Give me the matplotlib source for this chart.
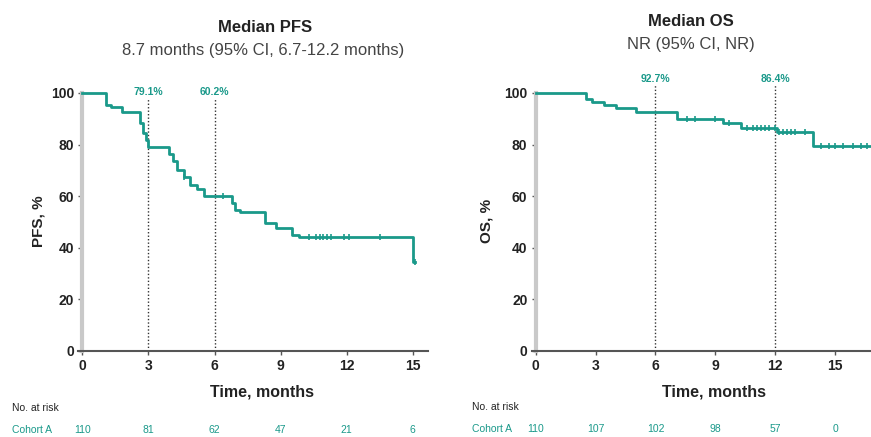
import numpy as np
import matplotlib
matplotlib.use("Agg")
import matplotlib.pyplot as plt

plt.rcParams['font.family'] = ['Liberation Sans', 'DejaVu Sans']

TEAL = "#1a998a"

# PFS curve (months, % event-free after each step)
pfs_t = [0, 1.05, 1.3, 1.8, 2.6, 2.75, 2.9, 3.0, 3.95, 4.1, 4.3, 4.6, 4.9, 5.2, 5.5,
         6.8, 6.95, 7.15, 8.3, 8.8, 9.5, 9.85, 15.0]
pfs_v = [100, 95.5, 94.5, 92.7, 88.2, 84.5, 81.8, 79.1, 76.4, 73.6, 70.0, 67.3, 64.5,
         62.7, 60.2, 57.3, 54.5, 54.0, 49.5, 47.6, 44.8, 44.1, 34.5]
pfs_end = 15.1
pfs_cens_t = [4.6, 6.4, 10.3, 10.6, 10.8, 10.95, 11.1, 11.3, 11.9, 12.1, 13.5, 15.1]

# OS curve
os_t = [0, 2.5, 2.8, 3.4, 4.0, 5.0, 7.1, 9.4, 10.3, 12.1, 13.9]
os_v = [100, 97.6, 96.4, 95.3, 94.1, 92.7, 90.0, 88.5, 86.4, 85.0, 79.5]
os_end = 17.0
os_cens_t = [7.6, 8.0, 9.0, 9.7, 10.6, 10.9, 11.1, 11.3, 11.5, 11.7, 12.0, 12.2, 12.4,
             12.6, 12.8, 13.0, 13.5, 14.3, 14.7, 15.0, 15.4, 15.9, 16.3, 16.6]

# landmark rates
pfs_marks = [3, 6]
pfs_mark_lbl = ["79.1%", "60.2%"]
os_marks = [6, 12]
os_mark_lbl = ["92.7%", "86.4%"]

xticks = [0, 3, 6, 9, 12, 15]
pfs_risk = [110, 81, 62, 47, 21, 6]
os_risk = [110, 107, 102, 98, 57, 0]


def step_value(t, v, x):
    i = np.searchsorted(t, x, side="right") - 1
    return v[i]


def km_panel(ax, t, v, t_end, cens, xmax, xlab_x):
    tt = list(t) + [t_end]
    vv = list(v) + [v[-1]]
    ax.step(tt, vv, where="post", color=TEAL, lw=2, clip_on=False, zorder=3)
    cv = [step_value(t, v, c) for c in cens]
    ax.plot(cens, cv, ls="none", marker="|", ms=4, mew=1.2, color=TEAL, zorder=4)
    ax.set_xlim(-0.2, xmax)
    ax.set_ylim(0, 101)
    ax.set_xticks(xticks)
    ax.set_yticks([0, 20, 40, 60, 80, 100])
    for s in ["top", "right"]:
        ax.spines[s].set_visible(False)
    ax.spines["left"].set_color("#c9c9c9")
    ax.spines["left"].set_linewidth(3)
    ax.spines["left"].set_bounds(0, 100)
    ax.spines["left"].set_position(("data", 0))
    ax.spines["bottom"].set_color("#555555")
    ax.spines["bottom"].set_linewidth(1.5)
    ax.tick_params(axis="both", length=3, width=1, color="#555555",
                   labelsize=10, labelcolor="#222222", pad=3)
    for lab in ax.get_xticklabels() + ax.get_yticklabels():
        lab.set_fontweight("bold")
    ax.set_xlabel("Time, months", fontsize=11.5, fontweight="bold", color="#222222")
    ax.xaxis.set_label_coords(xlab_x, -0.128)


fig = plt.figure(figsize=(8.71, 4.37), dpi=100)
ax1 = fig.add_axes([0.0896, 0.1968, 0.4018, 0.5963])
ax2 = fig.add_axes([0.6105, 0.1968, 0.3895, 0.5963])

km_panel(ax1, pfs_t, pfs_v, pfs_end, pfs_cens_t, 15.7, 0.526)
km_panel(ax2, os_t, os_v, os_end, os_cens_t, 16.8, 0.537)

ax1.set_ylabel("PFS, %", fontsize=11, fontweight="bold", color="#222222", labelpad=4)
ax2.set_ylabel("OS, %", fontsize=11, fontweight="bold", color="#222222", labelpad=8)

for m, lbl in zip(pfs_marks, pfs_mark_lbl):
    ax1.plot([m, m], [0, 98], ls=(0, (1, 1.5)), color="#333333", lw=1, zorder=2)
    ax1.text(m, 100.2, lbl, ha="center", va="center", fontsize=7.5,
             fontweight="bold", color=TEAL)
for m, lbl in zip(os_marks, os_mark_lbl):
    ax2.plot([m, m], [0, 103.5], ls=(0, (1, 1.5)), color="#333333", lw=1,
             zorder=2, clip_on=False)
    ax2.text(m, 105.5, lbl, ha="center", va="center", fontsize=7.5,
             fontweight="bold", color=TEAL, clip_on=False)

# titles
fig.text(265 / 871, 1 - 27 / 437, "Median PFS", ha="center", va="center",
         fontsize=12, fontweight="bold", color="#222222")
fig.text(263 / 871, 1 - 50 / 437, "8.7 months (95% CI, 6.7-12.2 months)",
         ha="center", va="center", fontsize=12, color="#444444")
fig.text(691 / 871, 1 - 21 / 437, "Median OS", ha="center", va="center",
         fontsize=12, fontweight="bold", color="#222222")
fig.text(691 / 871, 1 - 44 / 437, "NR (95% CI, NR)", ha="center", va="center",
         fontsize=12, color="#444444")

# numbers at risk
fig.text(12 / 871, 1 - 408 / 437, "No. at risk", ha="left", va="center",
         fontsize=7.5, color="#222222")
fig.text(472 / 871, 1 - 407 / 437, "No. at risk", ha="left", va="center",
         fontsize=7.5, color="#222222")
fig.text(12 / 871, 1 - 430 / 437, "Cohort A", ha="left", va="center",
         fontsize=7.5, color=TEAL)
fig.text(472 / 871, 1 - 429 / 437, "Cohort A", ha="left", va="center",
         fontsize=7.5, color=TEAL)
for ax, risk, ypx in [(ax1, pfs_risk, 430), (ax2, os_risk, 429)]:
    for x, n in zip(xticks, risk):
        ax.annotate(str(n), xy=(x, 0), xycoords=("data", "axes fraction"),
                    xytext=(x, 1 - ypx / 437), textcoords=("data", "figure fraction"),
                    ha="center", va="center", fontsize=7.5, color=TEAL,
                    annotation_clip=False)

fig.savefig("out.png", dpi=100)
